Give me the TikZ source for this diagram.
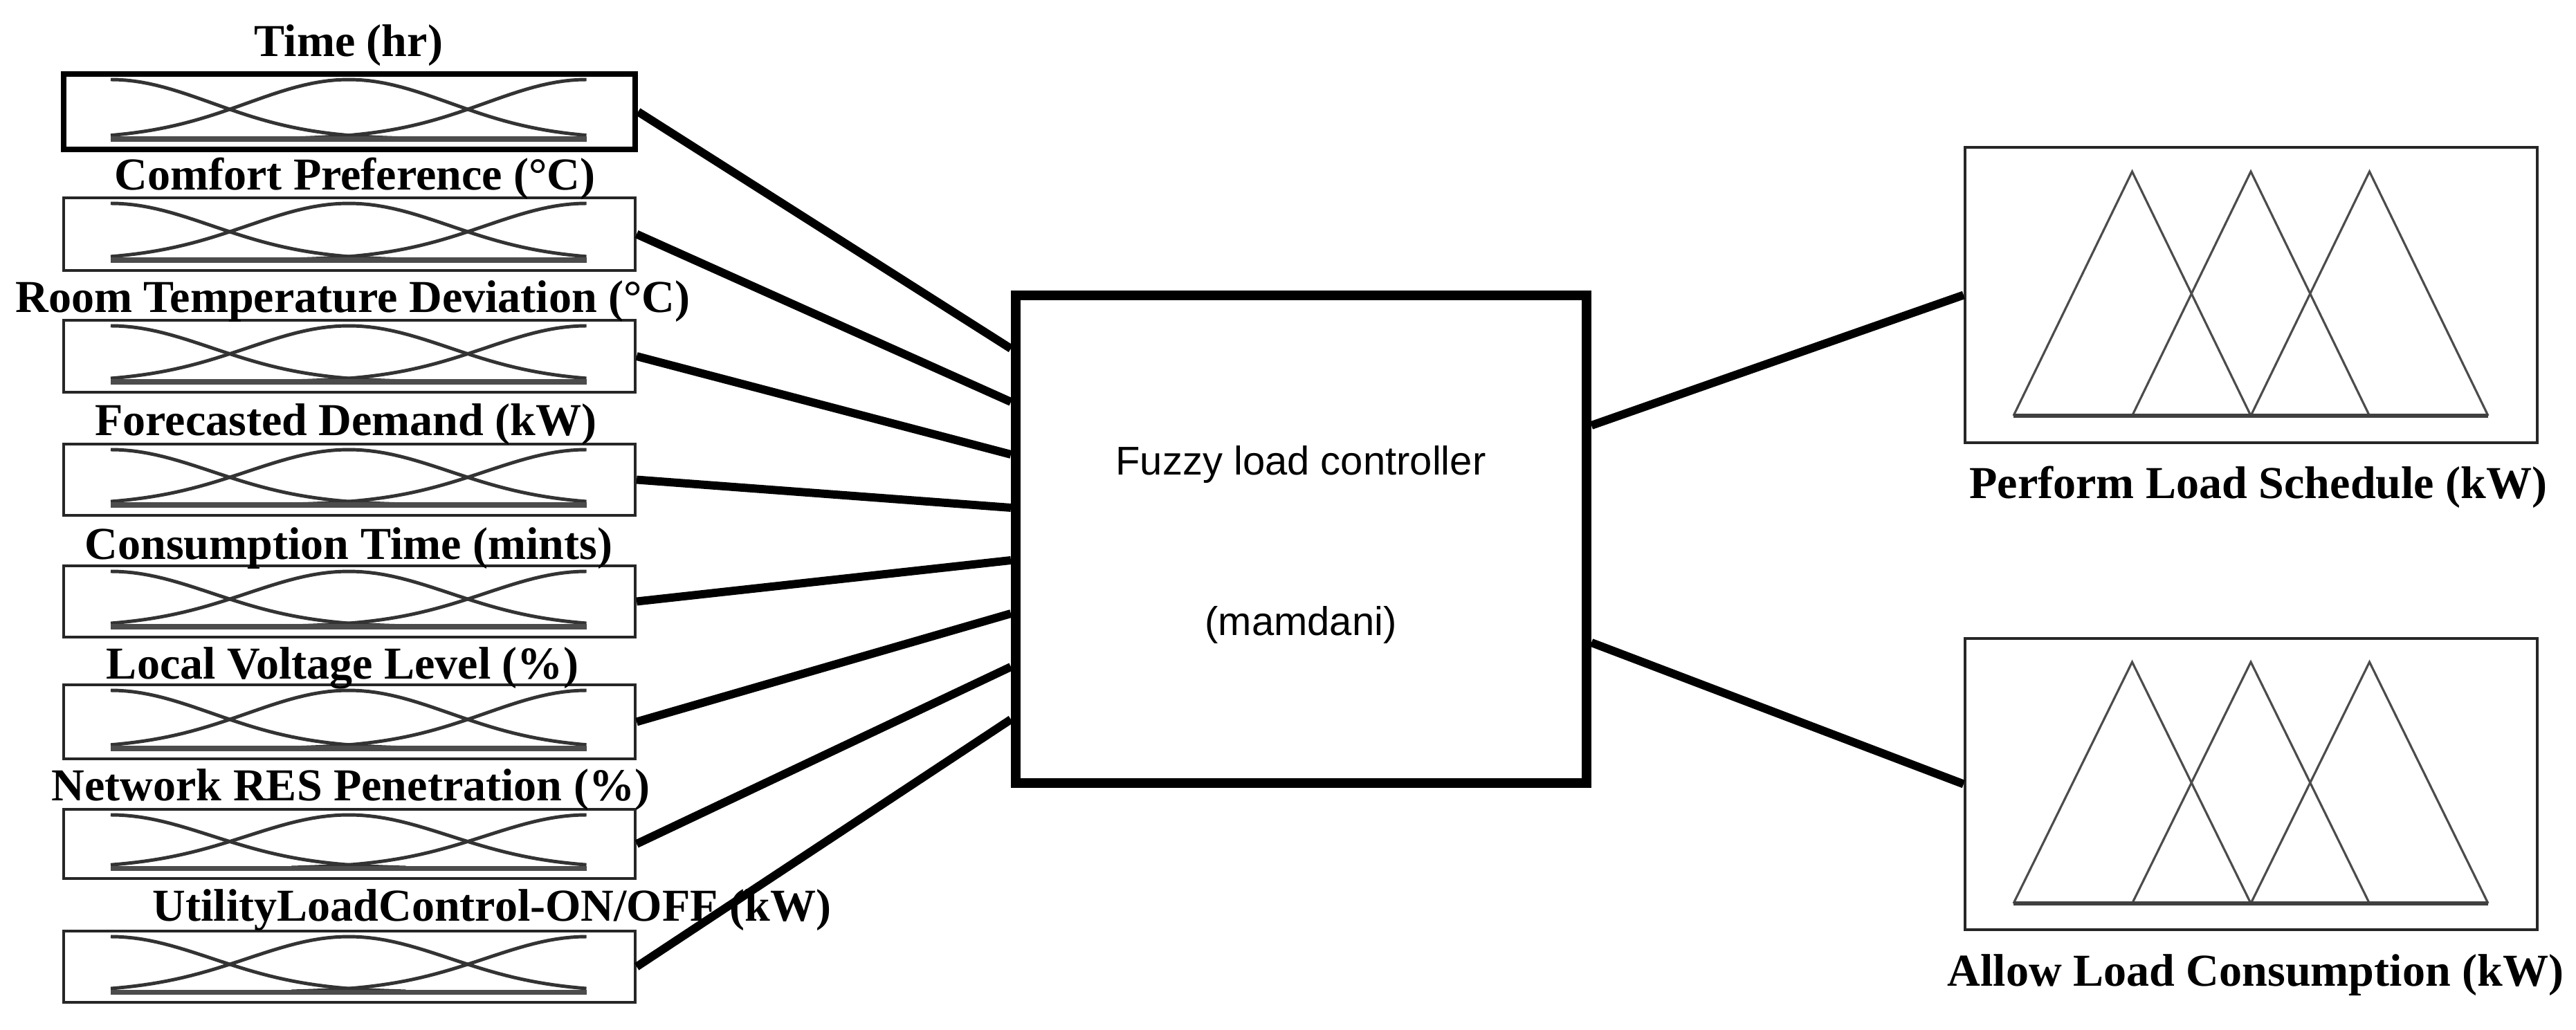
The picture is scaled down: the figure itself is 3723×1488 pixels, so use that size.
\documentclass[tikz,border=0pt]{standalone}
\usepackage{fontspec}
\setmainfont{Liberation Serif}
\newfontfamily\arialfont{Liberation Sans}
\newcommand\mfcurves[2]{%
  \pgfmathsetmacro\mfyt{#1+8}%
  \pgfmathsetmacro\mfyb{#2-15}%
  \pgfmathsetmacro\mfhh{\mfyb-\mfyt}%
  \draw[mfline] plot[domain=0:0.62,samples=40] ({160+688*\x},{\mfyb-\mfhh*exp(-(\x)^2/0.09014)});
  \draw[mfline] plot[domain=0:1,samples=60] ({160+688*\x},{\mfyb-\mfhh*exp(-(\x-0.5)^2/0.09014)});
  \draw[mfline] plot[domain=0.38:1,samples=40] ({160+688*\x},{\mfyb-\mfhh*exp(-(\x-1)^2/0.09014)});
  \draw[mfbase] (160,\mfyb) -- (848,\mfyb);
}
\newcommand\inputblock[7]{%
  \pgfmathsetmacro\mfboxh{(#3-#2)/10}%
  \node[#7, minimum height=\mfboxh mm] (#1) at (505,{(#2+#3)/2}) {};
  \node[lbl] (#1lbl) at (#5,#6) {#4};
  \mfcurves{#2}{#3}
}
\newcommand\tribox[2]{%
  \draw[tri] (2910,#2) -- (3081.5,#1) -- (3253,#2);
  \draw[tri] (3081.5,#2) -- (3253,#1) -- (3424.5,#2);
  \draw[tri] (3253,#2) -- (3424.5,#1) -- (3596,#2);
  \draw[tribase] (2910,#2) -- (3596,#2);
}
\begin{document}
\begin{tikzpicture}[x=0.1mm,y=-0.1mm,
  inbox/.style={draw=black!85, line width=1.2pt, minimum width=82.6mm, inner sep=0pt},
  inboxthick/.style={draw=black, line width=2.4pt, minimum width=82.6mm, inner sep=0pt},
  lbl/.style={font=\bfseries\fontsize{18.8}{20}\selectfont, anchor=base, inner sep=0pt},
  mfline/.style={draw=black!80, line width=1.4pt},
  mfbase/.style={draw=black!70, line width=2pt},
  ctrl/.style={draw=black, line width=4pt, minimum width=82.5mm, minimum height=70.5mm, inner sep=0pt},
  ctrltxt/.style={font=\arialfont\fontsize{16.5}{18}\selectfont, anchor=base, inner sep=0pt},
  outbox/.style={draw=black!85, line width=1.2pt, minimum width=82.7mm, inner sep=0pt},
  tri/.style={draw=black!70, line width=0.9pt, line join=miter},
  tribase/.style={draw=black!75, line width=1.5pt},
  conn/.style={draw=black, line width=3.4pt}]
\useasboundingbox (0,0) rectangle (3723,1488);

% input blocks
\inputblock{in1}{107}{216}{Time (hr)}{504}{81}{inboxthick}
\inputblock{in2}{286}{391}{Comfort Preference (°C)}{513}{274}{inbox}
\inputblock{in3}{463}{567}{Room Temperature Deviation (°C)}{510}{451}{inbox}
\inputblock{in4}{642}{745}{Forecasted Demand (kW)}{500}{629}{inbox}
\inputblock{in5}{818}{921}{Consumption Time (mints)}{504}{808}{inbox}
\inputblock{in6}{990}{1097}{Local Voltage Level (\%)}{495}{981}{inbox}
\inputblock{in7}{1170}{1270}{Network RES Penetration (\%)}{507}{1157}{inbox}
\inputblock{in8}{1346}{1449}{UtilityLoadControl-ON/OFF (kW)}{711}{1331}{inbox}

% controller
\node[ctrl] (ctrl) at (1880.5,779.5) {};
\node[ctrltxt] (ctrlt1) at (1880,686) {Fuzzy load controller};
\node[ctrltxt] (ctrlt2) at (1880,918) {(mamdani)};

% outputs
\node[outbox, minimum height=42.7mm] (out1) at (3253.5,426.5) {};
\node[outbox, minimum height=42.1mm] (out2) at (3253.5,1133.5) {};
\tribox{248}{601}
\tribox{957}{1306}
\node[lbl] (out1lbl) at (3264,720) {Perform Load Schedule (kW)};
\node[lbl] (out2lbl) at (3260,1425) {Allow Load Consumption (kW)};

% connectors
\draw[conn] (in1.east) -- ([yshift=-8.4mm]ctrl.north west);
\draw[conn] (in2.east) -- ([yshift=-16.1mm]ctrl.north west);
\draw[conn] (in3.east) -- ([yshift=-23.7mm]ctrl.north west);
\draw[conn] (in4.east) -- ([yshift=-31.4mm]ctrl.north west);
\draw[conn] (in5.east) -- ([yshift=-39.0mm]ctrl.north west);
\draw[conn] (in6.east) -- ([yshift=-46.7mm]ctrl.north west);
\draw[conn] (in7.east) -- ([yshift=-54.4mm]ctrl.north west);
\draw[conn] (in8.east) -- ([yshift=-62.0mm]ctrl.north west);
\draw[conn] ([yshift=-19.5mm]ctrl.north east) -- (out1.west);
\draw[conn] ([yshift=-50.9mm]ctrl.north east) -- (out2.west);
\end{tikzpicture}
\end{document}
